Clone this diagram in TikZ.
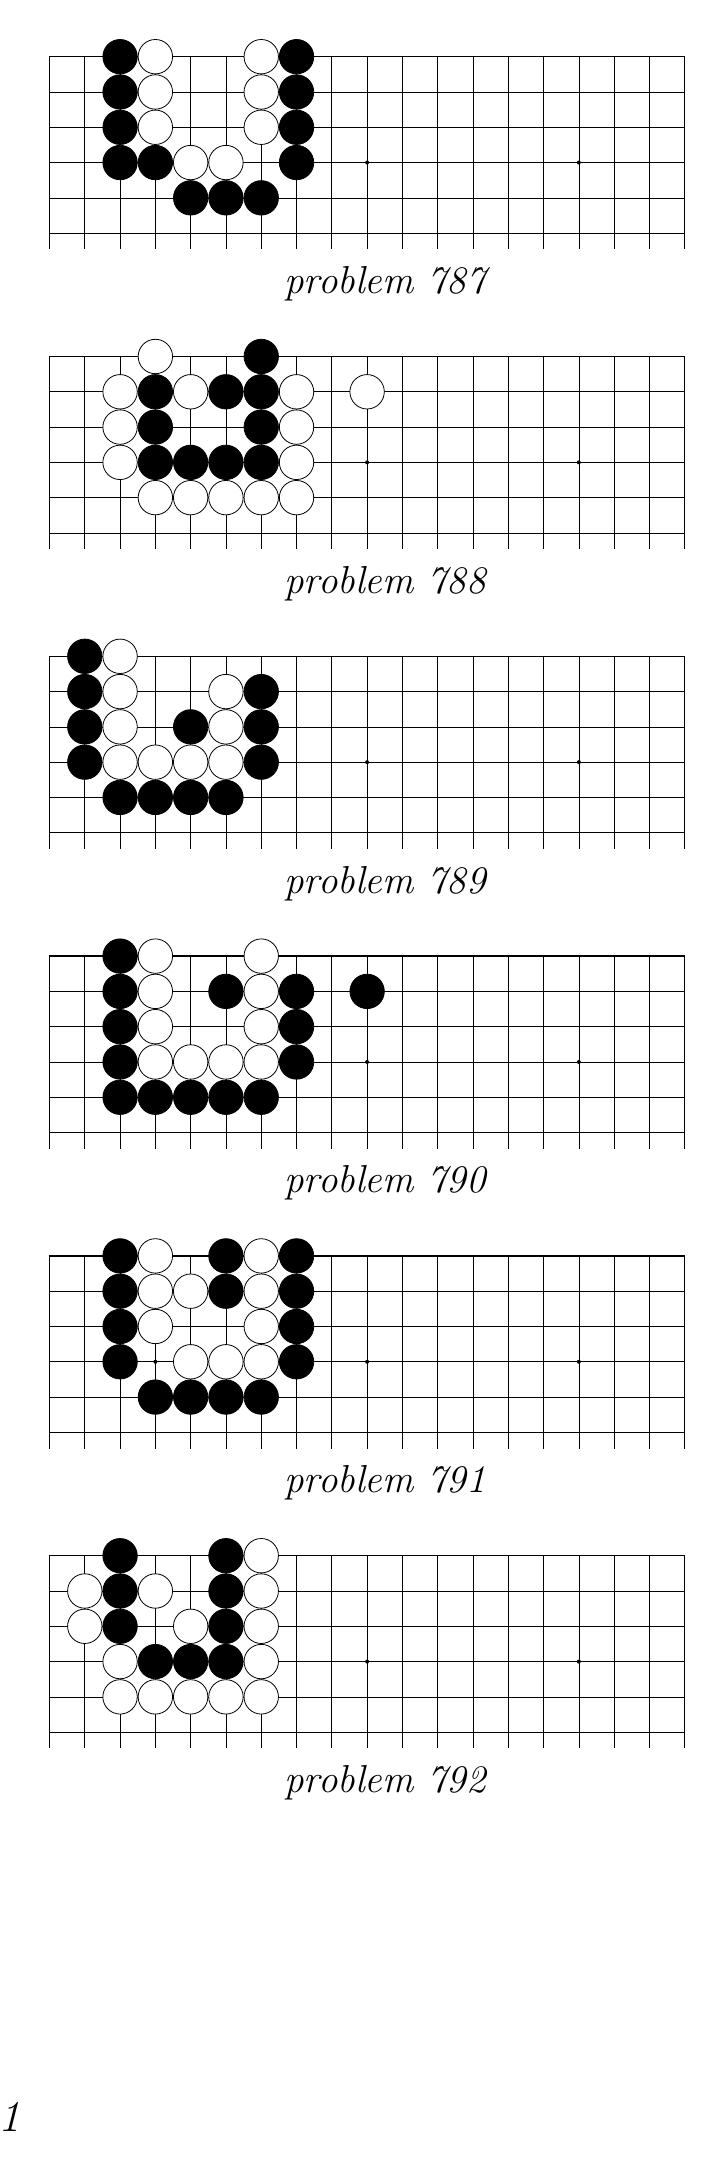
\documentclass[tikz,border=0pt]{standalone}

\begin{document}
\begin{tikzpicture}[x=1pt,y=-1pt]
   \tikzstyle{gridline}=[line width=0.7pt]
   \tikzstyle{edgeline}=[line width=1.5pt]
   \tikzstyle{bstone}=[circle,draw=black,fill=black,line width=0.8pt,minimum size=34.4pt,inner sep=0pt]
   \tikzstyle{wstone}=[circle,draw=black,fill=white,line width=0.8pt,minimum size=34.4pt,inner sep=0pt]
   \tikzstyle{hoshi}=[circle,fill=black,minimum size=4pt,inner sep=0pt]
   \tikzstyle{caption}=[anchor=base,inner sep=0pt,font=\fontsize{39}{44}\selectfont\itshape]

   \useasboundingbox (0,0) rectangle (725,2181) ;

   \foreach \k/\num/\blist/\wlist in {
      0/787/{3/1,8/1,3/2,8/2,3/3,8/3,3/4,4/4,8/4,5/5,6/5,7/5}/{4/1,7/1,4/2,7/2,4/3,7/3,5/4,6/4},
      1/788/{7/1,4/2,6/2,7/2,4/3,7/3,4/4,5/4,6/4,7/4}/{4/1,3/2,5/2,8/2,10/2,3/3,8/3,3/4,8/4,4/5,5/5,6/5,7/5,8/5},
      2/789/{2/1,2/2,7/2,2/3,5/3,7/3,2/4,7/4,3/5,4/5,5/5,6/5}/{3/1,3/2,6/2,3/3,6/3,3/4,4/4,5/4,6/4},
      3/790/{3/1,3/2,6/2,8/2,10/2,3/3,8/3,3/4,8/4,3/5,4/5,5/5,6/5,7/5}/{4/1,7/1,4/2,7/2,4/3,7/3,4/4,5/4,6/4,7/4},
      4/791/{3/1,6/1,8/1,3/2,6/2,8/2,3/3,8/3,3/4,8/4,4/5,5/5,6/5,7/5}/{4/1,7/1,4/2,5/2,7/2,4/3,7/3,5/4,6/4,7/4},
      5/792/{3/1,6/1,3/2,6/2,3/3,6/3,4/4,5/4,6/4}/{7/1,2/2,4/2,7/2,2/3,5/3,7/3,3/4,7/4,3/5,4/5,5/5,6/5,7/5}} {
      \begin{scope}[shift={(14.21,21.4+299.8*\k)},x=35.29pt,y=-35.29pt]
         % board: top edge and the six upper lines
         \foreach \r in {2,...,6}
            \draw [gridline] (1,\r) -- (19,\r) ;
         \foreach \c in {2,...,18}
            \draw [gridline] (\c,1) -- (\c,6.46) ;
         \draw [edgeline] (1,6.46) -- (1,1) -- (19,1) -- (19,6.46) ;
         \foreach \c in {4,10,16}
            \node (h\num-\c) [hoshi] at (\c,4) {} ;
         % stones
         \foreach \c/\r in \blist
            \node (b\num-\c-\r) [bstone] at (\c,\r) {} ;
         \foreach \c/\r in \wlist
            \node (w\num-\c-\r) [wstone] at (\c,\r) {} ;
         \node (p\num) [caption] at (10.507,7.71) {problem \num} ;
      \end{scope}
   }

   \node (pagenum) [anchor=base east,inner sep=0pt,font=\fontsize{44}{50}\selectfont\itshape] at (21,2131.7) {1} ;
\end{tikzpicture}
\end{document}
